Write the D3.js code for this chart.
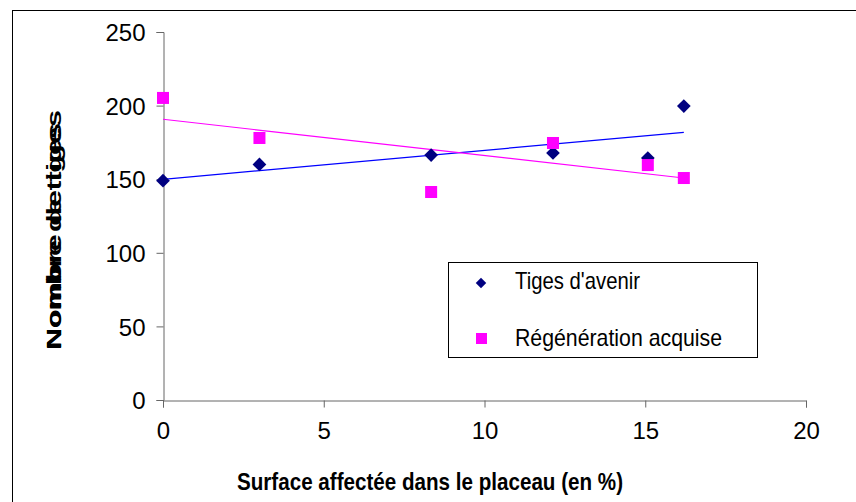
<!DOCTYPE html>
<html>
<head>
<meta charset="utf-8">
<script src="https://cdn.jsdelivr.net/npm/d3@7"></script>
<style>
  html, body { margin: 0; padding: 0; background: #fff; }
  svg { display: block; font-family: "Liberation Sans", Arial, sans-serif; }
</style>
</head>
<body>
<svg id="chart" width="856" height="502"></svg>
<script>
// Surface affectée (%) par placeau
const surface = [0, 3, 8.34, 12.13, 15.08, 16.2];
// Tiges d'avenir
const tigesAvenir = [149, 160, 166.4, 167.8, 164.4, 199.7];
// Régénération acquise
const regeneration = [205.2, 178, 141.3, 174.6, 159.6, 150.8];

const xTicks = [0, 5, 10, 15, 20];
const yTicks = [0, 50, 100, 150, 200, 250];
const seriesNames = ["Tiges d'avenir", "Régénération acquise"];

const svg = d3.select("#chart");

// outer frame
svg.append("rect")
  .attr("x", 12.5).attr("y", 10.5)
  .attr("width", 860).attr("height", 510)
  .attr("fill", "#fff").attr("stroke", "#000").attr("stroke-width", 1);

const x = d3.scaleLinear().domain([0, 20]).range([163, 806]);
const y = d3.scaleLinear().domain([0, 250]).range([400, 32]);

// axes
const axisColor = "#666";
const yAxis = svg.append("g")
  .attr("transform", "translate(163.5,0)")
  .call(d3.axisLeft(y).tickValues(yTicks).tickSize(7).tickPadding(11));
const xAxis = svg.append("g")
  .attr("transform", "translate(0,400.5)")
  .call(d3.axisBottom(x).tickValues(xTicks).tickSize(7).tickPadding(14));
[xAxis, yAxis].forEach(g => {
  g.select(".domain").attr("stroke", axisColor);
  g.selectAll(".tick line").attr("stroke", axisColor);
  g.selectAll(".tick text")
    .attr("fill", "#000")
    .attr("font-size", 24)
    .attr("font-family", "'Liberation Sans', Arial, sans-serif");
});
yAxis.selectAll(".tick text").attr("dy", "0.36em");

// least-squares trend line
function fit(xs, ys) {
  const mx = d3.mean(xs), my = d3.mean(ys);
  let sxy = 0, sxx = 0;
  xs.forEach((v, i) => { sxy += (v - mx) * (ys[i] - my); sxx += (v - mx) * (v - mx); });
  const b = sxy / sxx;
  return { a: my - b * mx, b };
}
function trend(ys, color) {
  const f = fit(surface, ys);
  const x0 = d3.min(surface), x1 = d3.max(surface);
  svg.append("line")
    .attr("x1", x(x0)).attr("y1", y(f.a + f.b * x0))
    .attr("x2", x(x1)).attr("y2", y(f.a + f.b * x1))
    .attr("stroke", color).attr("stroke-width", 1.2);
}
trend(tigesAvenir, "#0000FF");
trend(regeneration, "#FF00FF");

const diamond = d3.symbol().type(d3.symbolDiamond2).size(120);

// markers
svg.append("g").selectAll("path")
  .data(surface.map((s, i) => [s, tigesAvenir[i]]))
  .join("path")
  .attr("d", diamond)
  .attr("transform", d => `translate(${x(d[0])},${y(d[1])})`)
  .attr("fill", "#000080");

svg.append("g").selectAll("rect")
  .data(surface.map((s, i) => [s, regeneration[i]]))
  .join("rect")
  .attr("x", d => x(d[0]) - 6).attr("y", d => y(d[1]) - 6)
  .attr("width", 12).attr("height", 12)
  .attr("fill", "#FF00FF");

// legend
const lg = svg.append("g");
lg.append("rect")
  .attr("x", 448.5).attr("y", 262.5).attr("width", 309).attr("height", 95)
  .attr("fill", "#fff").attr("stroke", "#000");
lg.append("path").attr("d", d3.symbol().type(d3.symbolDiamond2).size(70))
  .attr("transform", "translate(481,283)").attr("fill", "#000080");
lg.append("rect").attr("x", 476).attr("y", 333).attr("width", 11).attr("height", 11)
  .attr("fill", "#FF00FF");
lg.append("text").attr("x", 515).attr("y", 289)
  .attr("font-size", 24)
  .attr("textLength", 125).attr("lengthAdjust", "spacingAndGlyphs")
  .text(seriesNames[0]);
lg.append("text").attr("x", 515).attr("y", 346)
  .attr("font-size", 24)
  .attr("textLength", 207).attr("lengthAdjust", "spacingAndGlyphs")
  .text(seriesNames[1]);

// axis titles
svg.append("text")
  .attr("x", 237).attr("y", 490)
  .attr("font-size", 24).attr("font-weight", "bold")
  .attr("textLength", 386).attr("lengthAdjust", "spacingAndGlyphs")
  .text("Surface affectée dans le placeau (en %)");

svg.append("text")
  .attr("transform", "translate(61,350) rotate(-90)")
  .attr("font-size", 21).attr("font-weight", "bold")
  .attr("textLength", 240).attr("lengthAdjust", "spacingAndGlyphs")
  .text("Nombre de tiges");
svg.append("text")
  .attr("transform", "translate(61,349) rotate(-90)")
  .attr("font-size", 21).attr("font-weight", "bold")
  .attr("textLength", 226).attr("lengthAdjust", "spacingAndGlyphs")
  .text("Nombre de tiges");
</script>
</body>
</html>
